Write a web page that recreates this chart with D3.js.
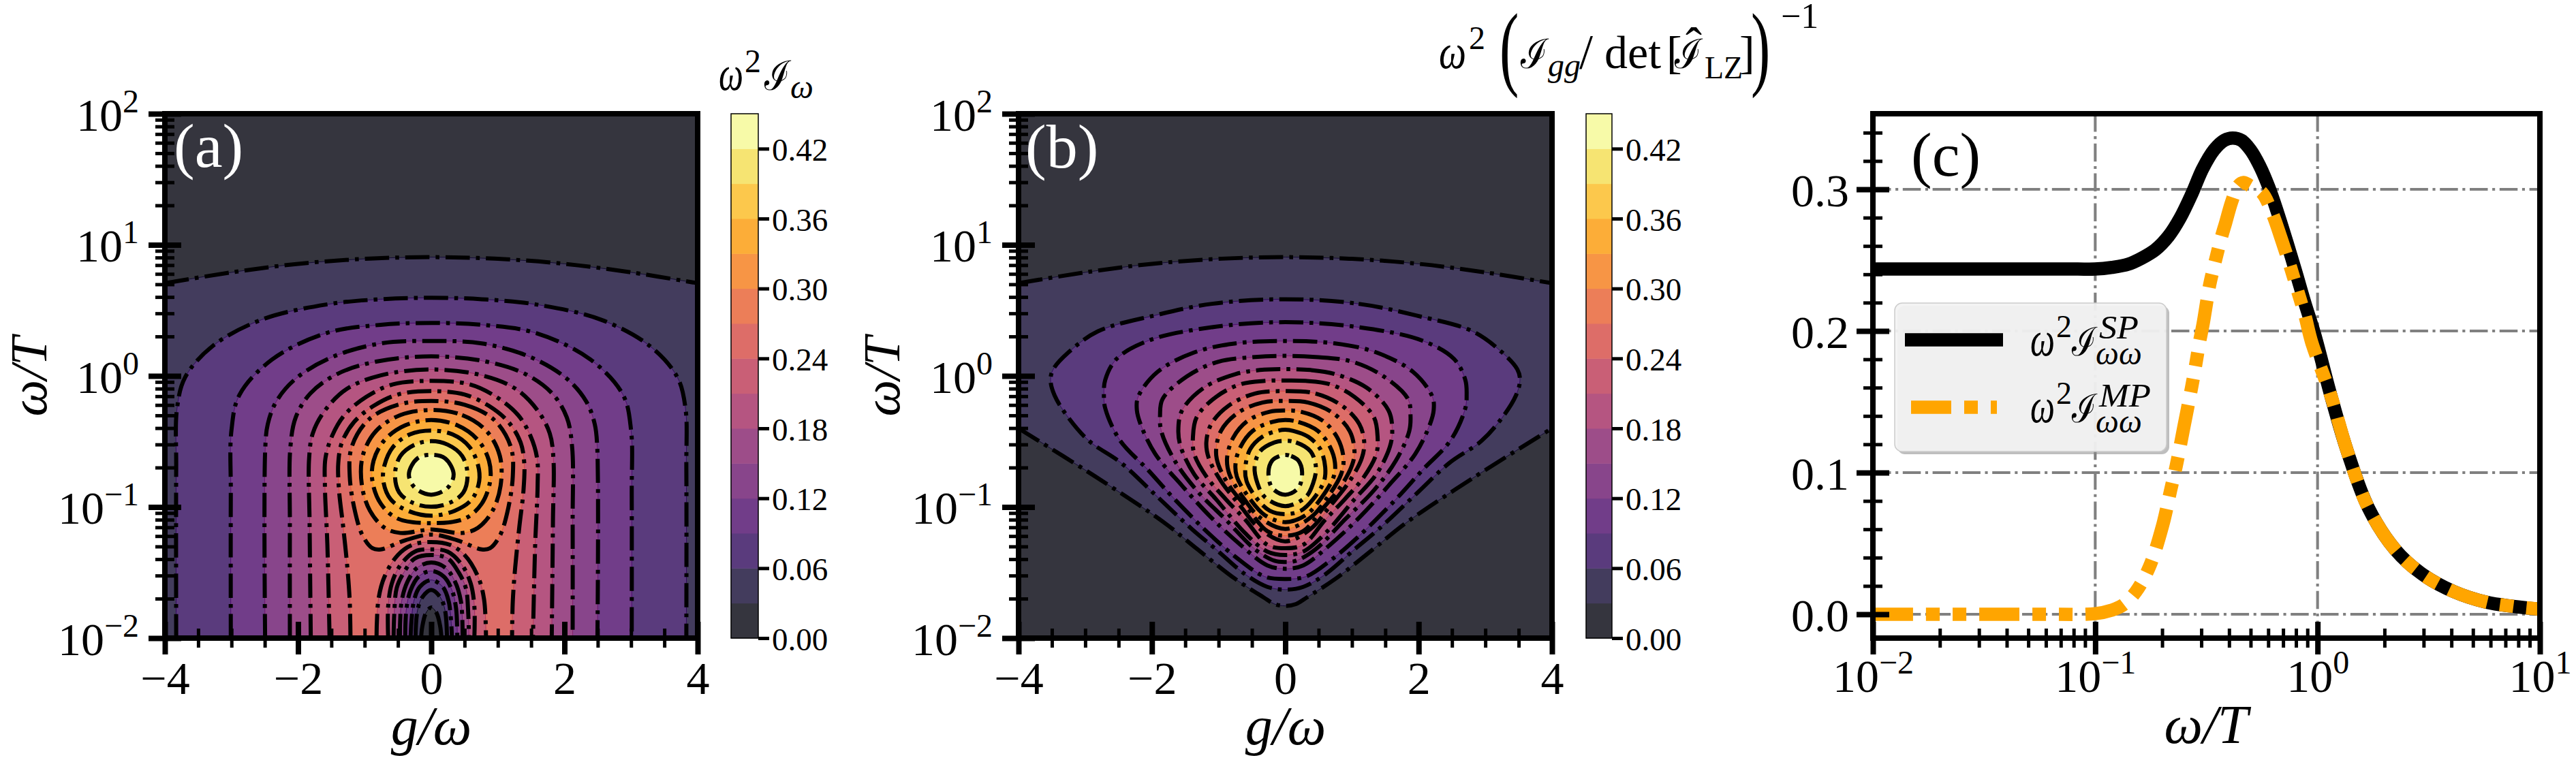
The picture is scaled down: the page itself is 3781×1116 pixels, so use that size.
<!DOCTYPE html>
<html><head><meta charset="utf-8">
<script src="https://cdn.jsdelivr.net/npm/d3@7"></script>
<style>html,body{margin:0;padding:0;background:#fff}svg{display:block}</style></head>
<body><div id="chart"></div>
<script>
// ---------- data: contours as [g/omega, log10(omega/T)], right half, top to bottom ----------
const levels=[0,.03,.06,.09,.12,.15,.18,.21,.24,.27,.30,.33,.36,.39,.42,.45];
const colorbarTicks=[0,.06,.12,.18,.24,.30,.36,.42];
const gMajor=[-4,-2,0,2,4];
const gMinor=[-3.5,-3,-2.5,-1.5,-1,-.5,.5,1,1.5,2.5,3,3.5];
const logMajorPanels=[1e-2,1e-1,1e0,1e1,1e2];
const logMajorC=[1e-2,1e-1,1e0,1e1];
const mantissas=[2,3,4,5,6,7,8,9];
const valueMajor=[0,.1,.2,.3];
const valueMinor=[.02,.04,.06,.08,.12,.14,.16,.18,.22,.24,.26,.28,.32,.34];

const a03=[[0,.906],[1,.893],[2,.855],[3,.79],[4,.707]];
const a06=[[0,.596],[.759,.585],[1.574,.545],[2.553,.428],[3.287,.226],[3.695,-.01],[3.817,-.246],[3.83,-.7],[3.83,-2]];
const a09=[[0,.404],[.759,.39],[1.574,.327],[2.39,.125],[2.88,-.145],[3,-.414],[3.01,-.9],[3.01,-2]];
const a12=[[0,.266],[.756,.248],[1.487,.144],[2.035,-.021],[2.327,-.195],[2.455,-.368],[2.492,-.542],[2.495,-2]];
const a15=[[0,.149],[.829,.109],[1.414,.014],[1.816,-.134],[2.035,-.316],[2.115,-.542],[2.123,-1.115],[2.123,-2]];
const a18=[[0,.049],[.756,.005],[1.268,-.099],[1.597,-.264],[1.779,-.438],[1.834,-.628],[1.827,-1.115],[1.809,-2]];
const a21=[[0,-.038],[.574,-.064],[.976,-.16],[1.304,-.299],[1.487,-.455],[1.589,-.628],[1.597,-.837],[1.56,-1.288],[1.527,-2]];
const a24=[[0,-.116],[.501,-.142],[.866,-.229],[1.158,-.351],[1.341,-.507],[1.396,-.663],[1.385,-.872],[1.323,-1.149],[1.26,-1.462],[1.224,-1.722],[1.213,-2]];
const a27=[[0,-.191],[.501,-.22],[.939,-.333],[1.195,-.542],[1.224,-.767],[1.14,-1.045],[1.03,-1.219],[.884,-1.314],[.756,-1.323],[.391,-1.254],[0,-1.21]];
const a30=[[0,-.26],[.464,-.299],[.829,-.42],[1.03,-.611],[1.041,-.837],[.921,-1.028],[.702,-1.158],[.464,-1.198],[0,-1.172]];
const a33=[[0,-.337],[.391,-.377],[.702,-.49],[.866,-.646],[.884,-.802],[.756,-.976],[.501,-1.089],[0,-1.123]];
const a36=[[0,-.417],[.318,-.446],[.574,-.542],[.702,-.681],[.72,-.802],[.61,-.941],[.354,-1.028],[0,-1.066]];
const a39=[[0,-.498],[.245,-.524],[.464,-.611],[.544,-.75],[.482,-.889],[.281,-.967],[0,-.998]];
const a42=[[0,-.602],[.208,-.629],[.336,-.75],[.245,-.854],[0,-.906]];
const dome24=[[0,-1.267],[.281,-1.288],[.501,-1.366],[.702,-1.531],[.793,-1.705],[.822,-2]];
const dome21=[[0,-1.323],[.245,-1.34],[.464,-1.444],[.592,-1.583],[.647,-1.757],[.647,-2]];
const dome18=[[0,-1.366],[.245,-1.392],[.409,-1.497],[.519,-1.618],[.555,-1.809],[.566,-2]];
const dome15=[[0,-1.424],[.208,-1.462],[.354,-1.566],[.446,-1.722],[.471,-2]];
const dome12=[[0,-1.488],[.19,-1.531],[.311,-1.636],[.373,-1.775],[.391,-2]];
const dome09=[[0,-1.557],[.172,-1.609],[.263,-1.722],[.311,-2]];
const dome06=[[0,-1.632],[.135,-1.688],[.208,-1.792],[.237,-2]];
const dome03=[[0,-1.766],[.08,-1.809],[.135,-1.913],[.153,-2]];

const b03top=[[0,.906],[1,.893],[2,.855],[3,.79],[4,.707]];
const b03low=[[0,-1.754],[.161,-1.74],[.329,-1.688],[.749,-1.549],[1.315,-1.323],[1.827,-1.115],[2.85,-.767],[4,-.4]];
const b06=[[0,.585],[1.1,.55],[1.97,.46],[2.81,.34],[3.25,.18],[3.48,.05],[3.52,-.03],[3.46,-.148],[3.25,-.32],[2.938,-.498],[2.463,-.663],[1.951,-.906],[1.403,-1.167],[1.038,-1.323],[.599,-1.514],[.27,-1.609],[0,-1.63]];
const b09=[[0,.41],[1.12,.37],[2.05,.27],[2.53,.13],[2.7,-.03],[2.72,-.142],[2.7,-.247],[2.481,-.49],[2.061,-.716],[1.659,-.941],[1.111,-1.219],[.672,-1.41],[.307,-1.531],[0,-1.549]];
const b12=[[0,.266],[.745,.248],[1.366,.179],[1.915,.031],[2.207,-.16],[2.225,-.264],[2.17,-.368],[1.951,-.594],[1.549,-.837],[1.111,-1.08],[.672,-1.288],[.27,-1.445],[0,-1.471]];
const b15=[[0,.153],[.453,.144],[1.001,.109],[1.476,-.004],[1.841,-.177],[1.878,-.299],[1.86,-.42],[1.659,-.646],[1.33,-.872],[.891,-1.097],[.453,-1.323],[.161,-1.41],[0,-1.419]];
const b18=[[0,.052],[.38,.045],[.745,.014],[1.22,-.09],[1.549,-.264],[1.604,-.42],[1.567,-.542],[1.366,-.75],[1.038,-.941],[.599,-1.201],[.27,-1.34],[0,-1.366]];
const b21=[[0,-.035],[.307,-.038],[.672,-.064],[1.038,-.16],[1.33,-.316],[1.385,-.472],[1.366,-.594],[1.184,-.767],[.891,-.941],[.599,-1.097],[.27,-1.288],[0,-1.314]];
const b24=[[0,-.116],[.453,-.134],[.855,-.229],[1.111,-.368],[1.184,-.507],[1.147,-.628],[.965,-.802],[.672,-.993],[.38,-1.167],[0,-1.262]];
const b27=[[0,-.191],[.343,-.203],[.709,-.281],[.965,-.42],[1.038,-.576],[1.001,-.681],[.818,-.854],[.563,-1.011],[.27,-1.184],[0,-1.219]];
const b30=[[0,-.264],[.234,-.273],[.563,-.342],[.782,-.472],[.873,-.628],[.837,-.75],[.636,-.924],[.38,-1.08],[0,-1.167]];
const b33=[[0,-.337],[.197,-.351],[.49,-.42],[.672,-.542],[.745,-.663],[.727,-.767],[.526,-.941],[.307,-1.062],[0,-1.115]];
const b36=[[0,-.411],[.124,-.42],[.343,-.464],[.526,-.559],[.599,-.698],[.581,-.802],[.417,-.941],[.234,-1.028],[0,-1.054]];
const b39=[[0,-.495],[.161,-.507],[.38,-.576],[.46,-.698],[.417,-.819],[.307,-.924],[0,-.993]];
const b42=[[0,-.602],[.088,-.611],[.197,-.646],[.252,-.733],[.197,-.854],[0,-.906]];

const spLogOmega=[-2,-1.5,-1.2,-1.078,-1.001,-.924,-.852,-.791,-.729,-.67,-.618,-.566,-.517,-.465,-.419,-.382,-.342,-.302,-.261,-.219,-.179,-.137,-.097,-.057,-.014,.06,.133,.229,.349,.47,.614,.759,.88,1];
const spValues=[.2437,.2437,.2437,.2437,.2437,.2449,.2471,.2514,.2574,.267,.2798,.2966,.3144,.3279,.3346,.3362,.3346,.3279,.3168,.3014,.2832,.2622,.2413,.2197,.1981,.1543,.1154,.075,.0457,.0284,.0159,.0085,.0056,.0036];
const mpLogOmega=[-2,-1.5,-1.2,-1,-.926,-.878,-.817,-.757,-.697,-.661,-.636,-.601,-.566,-.545,-.532,-.515,-.485,-.458,-.434,-.413,-.386,-.357,-.333,-.302,-.25,-.204,-.164,-.121,-.087,-.057,-.026,.06,.133,.229,.349,.47,.614,.759,.88,1];
const mpValues=[0,0,0,.0004,.0029,.0062,.016,.0332,.0626,.0875,.1045,.1325,.1606,.179,.1913,.2048,.2327,.2506,.2654,.2766,.2913,.3024,.3048,.3024,.2976,.2832,.2654,.2447,.2269,.2111,.1918,.1543,.1154,.075,.0457,.0284,.0159,.0085,.0056,.0036];

// ---------- helpers ----------
const W=3781,H=1116,TOP=167,BOT=937,SERIF='"Liberation Serif",serif';
const svg=d3.select('#chart').append('svg').attr('width',W).attr('height',H).attr('viewBox',`0 0 ${W} ${H}`);
svg.append('rect').attr('width',W).attr('height',H).attr('fill','#fff');
const tScale=d3.scaleLinear().domain([0,14]).range([.025,.98]);
function band(i){const c=d3.rgb(d3.interpolateInferno(tScale(i)));return d3.rgb(c.r*.8+51,c.g*.8+51,c.b*.8+51).formatHex();}
function pure(i){return d3.interpolateInferno(tScale(i));}
function mirrorOpen(p){const left=p.slice(p[0][0]===0?1:0).map(d=>[-d[0],d[1]]).reverse();return left.concat(p);}
function mirrorClosed(p){const left=p.slice(1,-1).map(d=>[-d[0],d[1]]).reverse();return p.concat(left);}
function text(g,x,y,s,size,o={}){
  const t=g.append('text').attr('x',x).attr('y',y).text(s).attr('font-size',size)
   .attr('font-family',SERIF).attr('font-style',o.italic?'italic':'normal')
   .attr('fill',o.fill||'#000').attr('text-anchor',o.anchor||'start');
  if(o.width)t.attr('textLength',o.width).attr('lengthAdjust','spacingAndGlyphs');
  return t;
}
function bigParen(g,x,y,s){g.append('text').text(s).attr('font-size',68).attr('font-family',SERIF).attr('fill','#000')
   .attr('transform',`translate(${x},${y}) scale(1.25,2.03)`);}
function styleLines(sel,a,b,w,attr1,attr2){sel.selectAll('.tick line').attr(attr1,a).attr(attr2,b).attr('stroke','#000').attr('stroke-width',w);}
function sup(node,base,exp){const t=d3.select(node);t.text(base);t.append('tspan').attr('dy',-27).attr('font-size',48).text(exp);}
function expLabel(node,d){const e=Math.round(Math.log10(d));sup(node,'10',e<0?'\u2212'+(-e):''+e);}
function logMinors(majors){const out=[];majors.slice(0,-1).forEach(m=>mantissas.forEach(k=>out.push(m*k)));return out;}

function frame(g,x0,x1){
  g.append('rect').attr('x',x0).attr('y',TOP).attr('width',x1-x0).attr('height',BOT-TOP)
   .attr('fill','none').attr('stroke','#000').attr('stroke-width',8);
}
function xAxisCommon(g,scale,major,minor,logLabels){
  const mn=g.append('g').attr('transform',`translate(0,${BOT})`).call(d3.axisBottom(scale).tickValues(minor).tickFormat(''));
  mn.select('.domain').remove();styleLines(mn,-14,14,5,'y1','y2');
  const mj=g.append('g').attr('transform',`translate(0,${BOT})`).call(d3.axisBottom(scale).tickValues(major));
  mj.select('.domain').remove();styleLines(mj,-24,24,8,'y1','y2');
  mj.attr('font-family',SERIF).attr('font-size',68);
  mj.selectAll('.tick text').attr('y',logLabels?79:82).attr('dy',0).attr('fill','#000').each(function(d){
    if(logLabels)expLabel(this,d);else d3.select(this).text(d<0?'\u2212'+(-d):d);
  });
}
function yAxisLog(g,scale,x0){
  const mn=g.append('g').attr('transform',`translate(${x0},0)`).call(d3.axisLeft(scale).tickValues(logMinors(logMajorPanels)).tickFormat(''));
  mn.select('.domain').remove();styleLines(mn,-14,14,5,'x1','x2');
  const mj=g.append('g').attr('transform',`translate(${x0},0)`).call(d3.axisLeft(scale).tickValues(logMajorPanels));
  mj.select('.domain').remove();styleLines(mj,-24,24,8,'x1','x2');
  mj.attr('font-family',SERIF).attr('font-size',68);
  mj.selectAll('.tick text').attr('x',-38).attr('dy',24).attr('fill','#000').each(function(d){expLabel(this,d);});
}
function colorbar(g,x0,x1){
  const s=d3.scaleLinear().domain([0,.45]).range([BOT,TOP]);
  g.selectAll('rect.band').data(d3.range(15)).join('rect').attr('class','band').attr('x',x0).attr('width',x1-x0)
   .attr('y',i=>s(levels[i+1])).attr('height',i=>s(levels[i])-s(levels[i+1])+.5).attr('fill',i=>band(i));
  g.append('rect').attr('x',x0).attr('y',TOP).attr('width',x1-x0).attr('height',BOT-TOP).attr('fill','none').attr('stroke','#000').attr('stroke-width',1.5);
  const ax=g.append('g').attr('transform',`translate(${x1},0)`).call(d3.axisRight(s).tickValues(colorbarTicks).tickFormat(d3.format('.2f')));
  ax.select('.domain').remove();styleLines(ax,0,16,5,'x1','x2');
  ax.attr('font-family',SERIF).attr('font-size',47);
  ax.selectAll('.tick text').attr('x',20).attr('dy',17).attr('fill','#000');
}

function contourPanel(id,x0,x1,fills,strokes){
  const g=svg.append('g');
  const x=d3.scaleLinear().domain([-4,4]).range([x0,x1]);
  const y=d3.scaleLog().domain([1e-2,1e2]).range([BOT,TOP]);
  const lineO=d3.line().x(d=>x(d[0])).y(d=>y(10**d[1])).curve(d3.curveCatmullRom.alpha(.5));
  const lineC=d3.line().x(d=>x(d[0])).y(d=>y(10**d[1])).curve(d3.curveCatmullRomClosed.alpha(.5));
  g.append('clipPath').attr('id',id).append('rect').attr('x',x0).attr('y',TOP).attr('width',x1-x0).attr('height',BOT-TOP);
  const plot=g.append('g').attr('clip-path',`url(#${id})`);
  plot.append('rect').attr('x',x0).attr('y',TOP).attr('width',x1-x0).attr('height',BOT-TOP).attr('fill',band(0));
  const api={x,y,lineO,lineC};
  fills(plot,api);
  strokes(plot,api);
  xAxisCommon(g,x,gMajor,gMinor,false);
  yAxisLog(g,y,x0);
  frame(g,x0,x1);
  return g;
}
function area(plot,d,i){plot.append('path').attr('d',d).attr('fill',band(i)).attr('stroke',pure(i)).attr('stroke-width',1);}
function dashed(plot,d){plot.append('path').attr('d',d).attr('fill','none').attr('stroke','#000').attr('stroke-width',6).attr('stroke-dasharray','35.6 9 5.6 9');}

// ---------- panel (a) ----------
const aOpen=[[a06,2],[a09,3],[a12,4],[a15,5],[a18,6],[a21,7],[a24,8]];
const aClosed=[[a27,9],[a30,10],[a33,11],[a36,12],[a39,13],[a42,14]];
const aDomes=[[dome24,7],[dome21,6],[dome18,5],[dome15,4],[dome12,3],[dome09,2],[dome06,1],[dome03,0]];
const pa=contourPanel('clipA',242,1024,(p,s)=>{
  area(p,s.lineO(mirrorOpen(a03))+`L${s.x(4)},${BOT}L${s.x(-4)},${BOT}Z`,1);
  aOpen.forEach(([c,i])=>area(p,s.lineO(mirrorOpen(c))+'Z',i));
  aClosed.forEach(([c,i])=>area(p,s.lineC(mirrorClosed(c)),i));
  aDomes.forEach(([c,i])=>area(p,s.lineO(mirrorOpen(c))+'Z',i));
},(p,s)=>{
  dashed(p,s.lineO(mirrorOpen(a03)));
  aOpen.forEach(([c])=>dashed(p,s.lineO(mirrorOpen(c))));
  aClosed.forEach(([c])=>dashed(p,s.lineC(mirrorClosed(c))));
  aDomes.forEach(([c])=>dashed(p,s.lineO(mirrorOpen(c))));
});
// ---------- panel (b) ----------
const bClosed=[[b06,2],[b09,3],[b12,4],[b15,5],[b18,6],[b21,7],[b24,8],[b27,9],[b30,10],[b33,11],[b36,12],[b39,13],[b42,14]];
const pb=contourPanel('clipB',1495,2278,(p,s)=>{
  const up=s.lineO(mirrorOpen(b03top));
  const lo=s.lineO(mirrorOpen(b03low).reverse());
  area(p,up+lo.replace(/^M/,'L')+'Z',1);
  bClosed.forEach(([c,i])=>area(p,s.lineC(mirrorClosed(c)),i));
},(p,s)=>{
  dashed(p,s.lineO(mirrorOpen(b03top)));
  dashed(p,s.lineO(mirrorOpen(b03low)));
  bClosed.forEach(([c])=>dashed(p,s.lineC(mirrorClosed(c))));
});
[pa,pb].forEach((g,k)=>{
  const cx=k?1887:633, yx=k?1320:68;
  text(g,cx,1093,'g/\u03c9',80,{italic:true,anchor:'middle'});
  text(g,yx,553,'\u03c9/T',76,{italic:true,anchor:'middle'}).attr('transform',`rotate(-90 ${yx} 553)`);
});
text(pa,255,245,'(a)',92,{fill:'#fff'});
text(pb,1505,246,'(b)',92,{fill:'#fff'});
const cba=svg.append('g');colorbar(cba,1073,1113);
const cbb=svg.append('g');colorbar(cbb,2328,2366);
// colorbar titles
text(cba,1055,132,'\u03c9',72,{italic:true,width:36});
text(cba,1093,106,'2',48);
text(cba,1122,132,'\u2110',60,{width:38});
text(cba,1160,144,'\u03c9',48,{italic:true});
text(cbb,2112,100,'\u03c9',72,{italic:true,width:40});
text(cbb,2156,72,'2',48);
bigParen(cbb,2201,115,'(');
text(cbb,2232,100,'\u2110',60,{width:40});
text(cbb,2272,112,'gg',48,{italic:true});
text(cbb,2318,100,'/',72);
text(cbb,2355,100,'det',68);
text(cbb,2446,100,'[',68);
text(cbb,2458,100,'\u2110',60,{width:40});
text(cbb,2474,90,'\u02c6',72);
text(cbb,2502,115,'LZ',46);
text(cbb,2553,100,']',68);
bigParen(cbb,2570,115,')');
text(cbb,2614,41,'\u22121',52);

// ---------- panel (c) ----------
const pc=svg.append('g');
const cx0=2749,cx1=3728;
const xc=d3.scaleLog().domain([1e-2,1e1]).range([cx0,cx1]);
const yc=d3.scaleLinear().domain([0,.3]).range([902,278]);
pc.append('clipPath').attr('id','clipC').append('rect').attr('x',cx0).attr('y',TOP).attr('width',cx1-cx0).attr('height',BOT-TOP);
const grid=pc.append('g').attr('clip-path','url(#clipC)');
const gridStyle=s=>s.attr('stroke','#808080').attr('stroke-width',4.1).attr('stroke-dasharray','26.5 6.6 4.1 6.6').attr('fill','none');
grid.selectAll('line.h').data(valueMajor).join('line').attr('x1',cx0).attr('x2',cx1).attr('y1',yc).attr('y2',yc).call(gridStyle);
grid.selectAll('line.v').data([.1,1]).join('line').attr('y1',TOP).attr('y2',BOT).attr('x1',xc).attr('x2',xc).call(gridStyle);
const seriesLine=d3.line().x(d=>xc(10**d[0])).y(d=>yc(d[1])).curve(d3.curveCatmullRom.alpha(.5));
grid.append('path').attr('d',seriesLine(d3.zip(spLogOmega,spValues))).attr('fill','none').attr('stroke','#000').attr('stroke-width',19.5);
grid.append('path').attr('d',seriesLine(d3.zip(mpLogOmega,mpValues))).attr('fill','none').attr('stroke','#ffa500').attr('stroke-width',19.5).attr('stroke-dasharray','59 19 20 19 20 19');
// legend
const lg=pc.append('g');
lg.append('rect').attr('x',2785).attr('y',449).attr('width',399).attr('height',218).attr('rx',11).attr('fill','#888').attr('opacity',.55);
lg.append('rect').attr('x',2781).attr('y',445).attr('width',399).attr('height',218).attr('rx',11).attr('fill','#f3f3f3').attr('fill-opacity',.93).attr('stroke','#ccc').attr('stroke-width',1.5);
lg.append('line').attr('x1',2796).attr('x2',2940).attr('y1',499).attr('y2',499).attr('stroke','#000').attr('stroke-width',19.5);
lg.append('line').attr('x1',2805).attr('x2',2931).attr('y1',598).attr('y2',598).attr('stroke','#ffa500').attr('stroke-width',19.5).attr('stroke-dasharray','59 19 20 19 20 19');
[[522,497,535,'SP',58],[620,597,635,'MP',76]].forEach(([b,s,u,lab,w])=>{
  text(lg,2980,b,'\u03c9',72,{italic:true,width:36});
  text(lg,3018,b-27,'2',46);
  text(lg,3041,b,'\u2110',58,{width:36});
  text(lg,3081,s,lab,48,{italic:true,width:w});
  text(lg,3076,u,'\u03c9\u03c9',48,{italic:true});
});
xAxisCommon(pc,xc,logMajorC,logMinors(logMajorC),true);
const cyMin=pc.append('g').attr('transform',`translate(${cx0},0)`).call(d3.axisLeft(yc).tickValues(valueMinor).tickFormat(''));
cyMin.select('.domain').remove();styleLines(cyMin,-14,14,5,'x1','x2');
const cyMaj=pc.append('g').attr('transform',`translate(${cx0},0)`).call(d3.axisLeft(yc).tickValues(valueMajor).tickFormat(d3.format('.1f')));
cyMaj.select('.domain').remove();styleLines(cyMaj,-24,24,8,'x1','x2');
cyMaj.attr('font-family',SERIF).attr('font-size',68);
cyMaj.selectAll('.tick text').attr('x',-35).attr('dy',24).attr('fill','#000');
frame(pc,cx0,cx1);
text(pc,2805,258,'(c)',92);
text(pc,3238,1091,'\u03c9/T',80,{italic:true,anchor:'middle'});
</script></body></html>
